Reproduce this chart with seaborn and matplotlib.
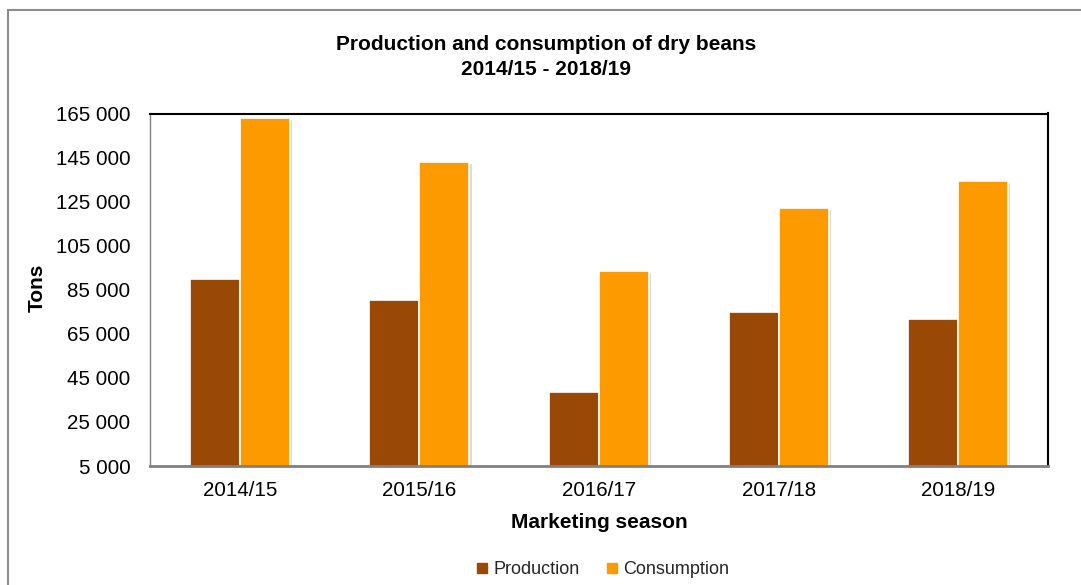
import matplotlib
matplotlib.use("Agg")
import matplotlib.pyplot as plt
import matplotlib.patheffects as pe
from matplotlib.lines import Line2D
from matplotlib.patches import Rectangle
from matplotlib.ticker import FixedLocator, FuncFormatter
import pandas as pd
import seaborn as sns

# Dry beans, tons per marketing season
seasons = ["2014/15", "2015/16", "2016/17", "2017/18", "2018/19"]
production = [90000, 80300, 38500, 75000, 71700]
consumption = [163000, 142900, 93600, 122100, 134500]
series_names = ["Production", "Consumption"]
y_ticks = [5000, 25000, 45000, 65000, 85000, 105000, 125000, 145000, 165000]

colors = {"Production": "#9A4806", "Consumption": "#FC9A00"}

df = pd.DataFrame({
    "season": seasons * 2,
    "tons": production + consumption,
    "series": [series_names[0]] * len(seasons) + [series_names[1]] * len(seasons),
})

sns.set_theme(style="white")
plt.rcParams["font.family"] = ["Liberation Sans", "DejaVu Sans"]

fig = plt.figure(figsize=(10.81, 5.85), dpi=100)
ax = fig.add_axes([150 / 1081, 1 - 466 / 585, 898 / 1081, 352.5 / 585])

sns.barplot(
    data=df, x="season", y="tons", hue="series", order=seasons,
    hue_order=series_names, palette=colors, saturation=1, width=0.557, gap=0,
    edgecolor="white", linewidth=1.2, legend=False, ax=ax,
)

shadow = [pe.SimplePatchShadow(offset=(1.5, -1.5), shadow_rgbFace="#999999", alpha=0.35), pe.Normal()]
for patch in ax.patches:
    patch.set_path_effects(shadow)

ax.set_ylim(y_ticks[0], y_ticks[-1])
ax.set_xlim(-0.5, len(seasons) - 0.5)
ax.yaxis.set_major_locator(FixedLocator(y_ticks))
ax.yaxis.set_major_formatter(FuncFormatter(lambda v, _: f"{int(v):,}".replace(",", " ")))
ax.tick_params(axis="both", length=0, labelsize=14.8, colors="#000000")
ax.tick_params(axis="y", pad=14)
ax.tick_params(axis="x", pad=11)

for side in ("top", "right"):
    ax.spines[side].set_color("#000000")
    ax.spines[side].set_linewidth(1.5)
ax.spines["left"].set_color("#808080")
ax.spines["left"].set_linewidth(1.0)
ax.spines["bottom"].set_color("#808080")
ax.spines["bottom"].set_linewidth(2.0)
for s in ax.spines.values():
    s.set_zorder(5)

ax.set_ylabel("Tons", fontsize=15, fontweight="bold", color="#000000")
ax.yaxis.set_label_coords(-0.115, 0.505)
ax.set_xlabel("Marketing season", fontsize=15, fontweight="bold", color="#000000")
ax.xaxis.set_label_coords(0.5, -0.133)

fig.text(546 / 1081, 1 - 57 / 585,
         "Production and consumption of dry beans\n2014/15 - 2018/19",
         ha="center", va="center", fontsize=15, fontweight="bold",
         linespacing=1.38, color="#000000")

handles = [Line2D([], [], marker="s", linestyle="none", markersize=7,
                  markerfacecolor=colors[n], markeredgecolor=colors[n])
           for n in series_names]
fig.legend(handles, series_names, loc="center", ncol=2,
           bbox_to_anchor=(601 / 1081, 1 - 570 / 585), frameon=False,
           fontsize=13, handletextpad=0.1, columnspacing=1.3,
           handlelength=1.0)

# Outer chart-area border
fig.patches.append(Rectangle((8 / 1081, -0.05), 1.2, 1 - 10 / 585 + 0.05,
                             transform=fig.transFigure, fill=False,
                             edgecolor="#8c8c8c", linewidth=1.5))

fig.savefig("out.png", dpi=100, facecolor="white")
